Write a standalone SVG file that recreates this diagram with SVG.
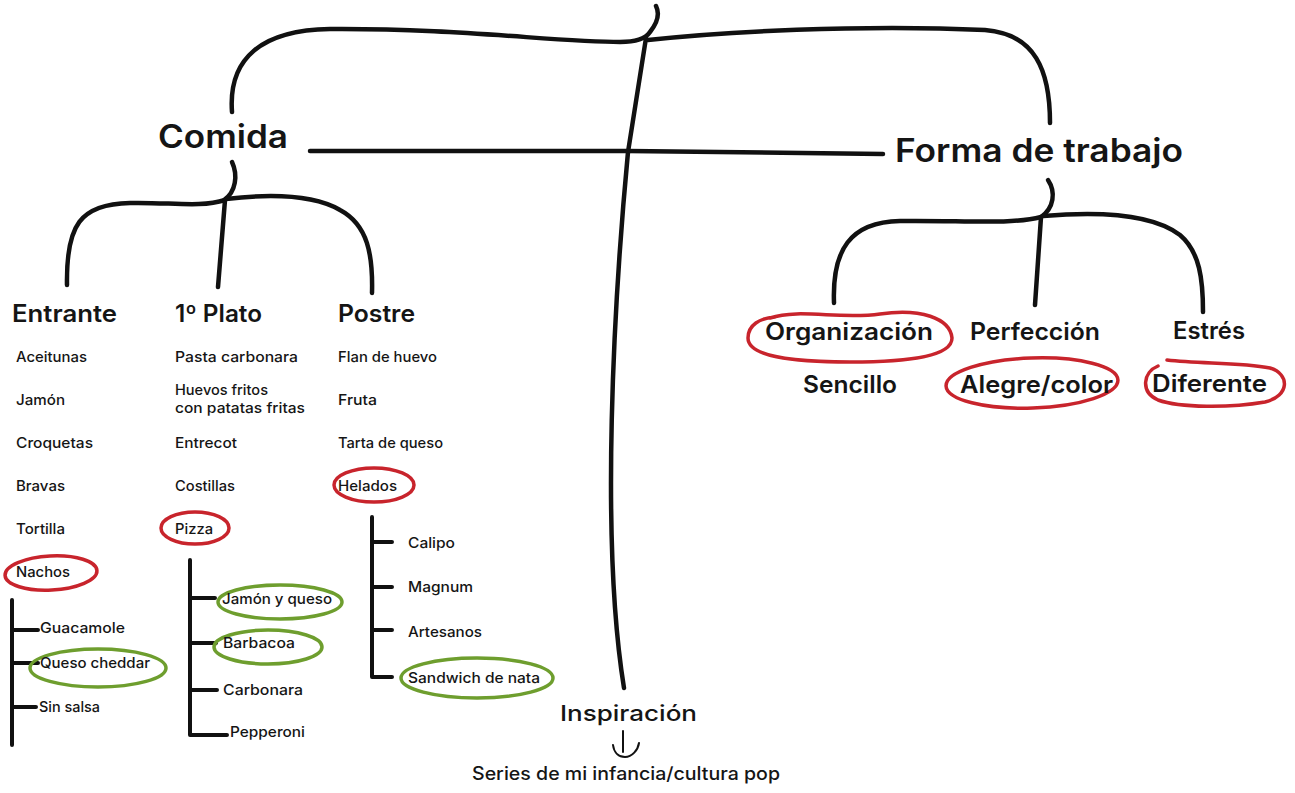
<svg xmlns="http://www.w3.org/2000/svg" width="1295" height="793" viewBox="0 0 1295 793">
<style>
.ln{fill:none;stroke:#111;stroke-width:4.5;stroke-linecap:round;stroke-linejoin:round}
.sb{fill:none;stroke:#111;stroke-width:4;stroke-linecap:round;stroke-linejoin:round}
.ar{fill:none;stroke:#111;stroke-width:2;stroke-linecap:round}
.red{fill:none;stroke:#c8242c;stroke-width:3.5;stroke-linecap:round}
.grn{fill:none;stroke:#6e9e2e;stroke-width:3.5;stroke-linecap:round}
text{font-family:Inter,"Open Sans","Liberation Sans",sans-serif;fill:#151515;font-weight:500}
.h1{font-size:32px;font-weight:600}
.h2{font-size:24px;font-weight:600}
.it{font-size:14.5px}
.in{font-size:22px}
.se{font-size:18px}
</style>
<rect width="1295" height="793" fill="#fff"/>
<g id="connectors">
<path class="ln" d="M 232 112 C 228 58, 262 30, 330 29 C 450 28, 560 42, 620 42 C 638 42, 646 38, 650 32 C 658 22, 660 14, 656 6"/>
<path class="ln" d="M 648 40 C 720 32, 860 24, 985 30 C 1035 34, 1050 70, 1050 123"/>
<path class="ln" d="M 646 38 L 628 152 C 614 300, 600 540, 624 688"/>
<path class="ln" d="M 310 151 L 628 151 L 883 154"/>
<path class="ln" d="M 232 162 C 238 175, 236 192, 224 200"/>
<path class="ln" d="M 225 200 C 200 208, 170 202, 130 203 C 80 204, 66 225, 67 285"/>
<path class="ln" d="M 225 200 L 218 287"/>
<path class="ln" d="M 226 199 C 260 195, 310 193, 340 210 C 368 225, 373 255, 372 293"/>
<path class="ln" d="M 1048 180 C 1056 192, 1054 208, 1041 217"/>
<path class="ln" d="M 1041 217 C 1010 225, 960 220, 900 221 C 850 222, 832 250, 834 303"/>
<path class="ln" d="M 1041 217 L 1035 305"/>
<path class="ln" d="M 1043 216 C 1090 212, 1150 212, 1180 235 C 1200 252, 1203 280, 1203 312"/>
<path class="sb" d="M 12 600 L 12 745 M 12 630 L 38 630 M 12 663 L 38 663 M 12 707 L 36 707"/>
<path class="sb" d="M 190 560 L 190 735 L 227 735 M 190 598 L 215 598 M 190 643 L 216 643 M 190 690 L 217 690"/>
<path class="sb" d="M 372 517 L 372 677 L 392 677 M 372 542 L 392 542 M 372 587 L 392 587 M 372 630 L 392 630"/>
<path class="ar" d="M 623 731 L 623 752 M 613 745 C 614 753, 619 757, 625 757 C 632 757, 638 750, 639 743"/>
</g>
<g id="highlights">
<ellipse class="red" cx="51" cy="573" rx="46" ry="17" transform="rotate(-3 51 573)"/>
<ellipse class="red" cx="195" cy="528" rx="34" ry="16"/>
<ellipse class="red" cx="374" cy="485" rx="40" ry="17"/>
<ellipse class="grn" cx="280" cy="602" rx="62" ry="17"/>
<ellipse class="grn" cx="268" cy="647" rx="54" ry="17"/>
<ellipse class="grn" cx="98" cy="668" rx="68" ry="19"/>
<ellipse class="grn" cx="477" cy="678" rx="76" ry="20"/>
<path class="red" d="M 770 318 C 800 308, 840 320, 880 314 C 920 308, 950 318, 952 338 C 952 356, 910 362, 850 362 C 790 362, 748 356, 748 338 C 748 325, 760 318, 775 317"/>
<ellipse class="red" cx="1032" cy="383" rx="86" ry="25" transform="rotate(-2 1032 383)"/>
<path class="red" d="M 1167 360 C 1200 364, 1240 362, 1270 368 C 1290 374, 1290 396, 1265 402 C 1230 408, 1180 408, 1158 400 C 1140 392, 1143 372, 1158 366"/>
</g>
<g id="node-comida"><text class="h1" x="158" y="148" textLength="130" lengthAdjust="spacingAndGlyphs">Comida</text></g>
<g id="node-forma"><text class="h1" x="895" y="162" textLength="288" lengthAdjust="spacingAndGlyphs">Forma de trabajo</text></g>
<g id="node-entrante"><text class="h2" x="12" y="322" textLength="105" lengthAdjust="spacingAndGlyphs">Entrante</text></g>
<g id="node-plato"><text class="h2" x="175" y="322" textLength="87" lengthAdjust="spacingAndGlyphs">1º Plato</text></g>
<g id="node-postre"><text class="h2" x="338" y="322" textLength="77" lengthAdjust="spacingAndGlyphs">Postre</text></g>
<g id="entrante-items">
<text class="it" x="16" y="362" textLength="71" lengthAdjust="spacingAndGlyphs">Aceitunas</text>
<text class="it" x="16" y="405" textLength="49" lengthAdjust="spacingAndGlyphs">Jamón</text>
<text class="it" x="16" y="448" textLength="77" lengthAdjust="spacingAndGlyphs">Croquetas</text>
<text class="it" x="16" y="491" textLength="49" lengthAdjust="spacingAndGlyphs">Bravas</text>
<text class="it" x="16" y="534" textLength="49" lengthAdjust="spacingAndGlyphs">Tortilla</text>
<text class="it" x="16" y="577" textLength="54" lengthAdjust="spacingAndGlyphs">Nachos</text>
</g>
<g id="nachos-items">
<text class="it" x="40" y="633" textLength="85" lengthAdjust="spacingAndGlyphs">Guacamole</text>
<text class="it" x="40" y="668" textLength="110" lengthAdjust="spacingAndGlyphs">Queso cheddar</text>
<text class="it" x="39" y="712" textLength="61" lengthAdjust="spacingAndGlyphs">Sin salsa</text>
</g>
<g id="plato-items">
<text class="it" x="175" y="362" textLength="123" lengthAdjust="spacingAndGlyphs">Pasta carbonara</text>
<text class="it" x="175" y="395" textLength="93" lengthAdjust="spacingAndGlyphs">Huevos fritos</text>
<text class="it" x="175" y="413" textLength="130" lengthAdjust="spacingAndGlyphs">con patatas fritas</text>
<text class="it" x="175" y="448" textLength="62" lengthAdjust="spacingAndGlyphs">Entrecot</text>
<text class="it" x="175" y="491" textLength="60" lengthAdjust="spacingAndGlyphs">Costillas</text>
<text class="it" x="175" y="534" textLength="38" lengthAdjust="spacingAndGlyphs">Pizza</text>
</g>
<g id="pizza-items">
<text class="it" x="222" y="604" textLength="110" lengthAdjust="spacingAndGlyphs">Jamón y queso</text>
<text class="it" x="223" y="648" textLength="72" lengthAdjust="spacingAndGlyphs">Barbacoa</text>
<text class="it" x="223" y="695" textLength="80" lengthAdjust="spacingAndGlyphs">Carbonara</text>
<text class="it" x="230" y="737" textLength="75" lengthAdjust="spacingAndGlyphs">Pepperoni</text>
</g>
<g id="postre-items">
<text class="it" x="338" y="362" textLength="99" lengthAdjust="spacingAndGlyphs">Flan de huevo</text>
<text class="it" x="338" y="405" textLength="39" lengthAdjust="spacingAndGlyphs">Fruta</text>
<text class="it" x="338" y="448" textLength="105" lengthAdjust="spacingAndGlyphs">Tarta de queso</text>
<text class="it" x="338" y="491" textLength="59" lengthAdjust="spacingAndGlyphs">Helados</text>
</g>
<g id="helados-items">
<text class="it" x="408" y="548" textLength="47" lengthAdjust="spacingAndGlyphs">Calipo</text>
<text class="it" x="408" y="592" textLength="65" lengthAdjust="spacingAndGlyphs">Magnum</text>
<text class="it" x="408" y="637" textLength="74" lengthAdjust="spacingAndGlyphs">Artesanos</text>
<text class="it" x="408" y="683" textLength="132" lengthAdjust="spacingAndGlyphs">Sandwich de nata</text>
</g>
<g id="forma-items">
<text class="h2" x="765" y="340" textLength="168" lengthAdjust="spacingAndGlyphs">Organización</text>
<text class="h2" x="970" y="340" textLength="130" lengthAdjust="spacingAndGlyphs">Perfección</text>
<text class="h2" x="1173" y="339" textLength="72" lengthAdjust="spacingAndGlyphs">Estrés</text>
<text class="h2" x="803" y="393" textLength="94" lengthAdjust="spacingAndGlyphs">Sencillo</text>
<text class="h2" x="960" y="393" textLength="153" lengthAdjust="spacingAndGlyphs">Alegre/color</text>
<text class="h2" x="1152" y="392" textLength="115" lengthAdjust="spacingAndGlyphs">Diferente</text>
</g>
<g id="node-inspiracion"><text class="in" x="560" y="721" textLength="137" lengthAdjust="spacingAndGlyphs">Inspiración</text></g>
<g id="node-series"><text class="se" x="472" y="780" textLength="308" lengthAdjust="spacingAndGlyphs">Series de mi infancia/cultura pop</text></g>
</svg>
